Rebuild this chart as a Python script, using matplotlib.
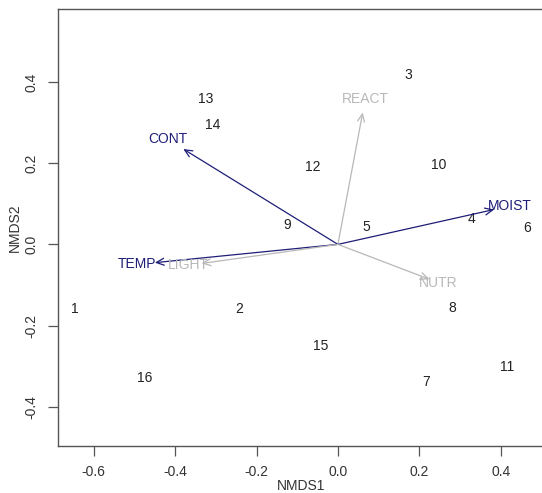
import matplotlib
matplotlib.use("Agg")
import matplotlib.pyplot as plt

plt.rcParams['font.family'] = ['Liberation Sans', 'DejaVu Sans']

# site scores
site_labels = ["1", "2", "3", "4", "5", "6", "7", "8", "9", "10", "11", "12", "13", "14", "15", "16"]
nmds1 = [-0.646, -0.243, 0.173, 0.329, 0.069, 0.464, 0.216, 0.282, -0.125, 0.247, 0.416, -0.061, -0.325, -0.307, -0.042, -0.476]
nmds2 = [-0.158, -0.158, 0.417, 0.062, 0.043, 0.041, -0.338, -0.156, 0.048, 0.195, -0.303, 0.190, 0.358, 0.294, -0.250, -0.329]

# environmental vectors
env_names = ["CONT", "REACT", "MOIST", "TEMP", "LIGHT", "NUTR"]
env_x = [-0.380, 0.061, 0.384, -0.450, -0.335, 0.225]
env_y = [0.235, 0.325, 0.086, -0.045, -0.047, -0.086]
env_significant = [True, False, True, True, False, False]

x_ticks = [-0.6, -0.4, -0.2, 0.0, 0.2, 0.4]
y_ticks = [-0.4, -0.2, 0.0, 0.2, 0.4]

navy = "#1e1e78"
grey = "#b8b8b8"

fig = plt.figure(figsize=(5.42, 4.93), dpi=100)
W, H = 542, 493
ax = fig.add_axes([58 / W, 1 - 445.7 / H, (545 - 58) / W, (445.7 - 9) / H])

for lab, x, y in zip(site_labels, nmds1, nmds2):
    ax.text(x, y, lab, ha="center", va="center", fontsize=10, color="#222222")

for name, x, y, sig in zip(env_names, env_x, env_y, env_significant):
    c = navy if sig else grey
    ax.annotate("", xy=(x, y), xytext=(0, 0),
                arrowprops=dict(arrowstyle="->,head_length=0.55,head_width=0.25",
                                color=c, lw=0.9, shrinkA=0, shrinkB=0))
    ax.text(x * 1.1, y * 1.1, name, ha="center", va="center", fontsize=10, color=c)

ax.set_xlim(-0.688, 0.509)
ax.set_ylim(-0.496, 0.580)
ax.set_xticks(x_ticks)
ax.set_xticklabels(["%.1f" % v for v in x_ticks])
ax.set_yticks(y_ticks)
ax.set_yticklabels(["%.1f" % v for v in y_ticks], rotation=90, va="center")
ax.tick_params(axis="both", length=7, width=0.9, color="#555555", labelsize=10,
               labelcolor="#333333", pad=7)
for s in ax.spines.values():
    s.set_color("#555555")
    s.set_linewidth(1.0)
ax.spines["right"].set_visible(False)

ax.set_xlabel("NMDS1", fontsize=10, color="#333333", labelpad=0)
ax.set_ylabel("NMDS2", fontsize=10, color="#333333", labelpad=2)

fig.savefig("out.png", dpi=100, facecolor="white")
